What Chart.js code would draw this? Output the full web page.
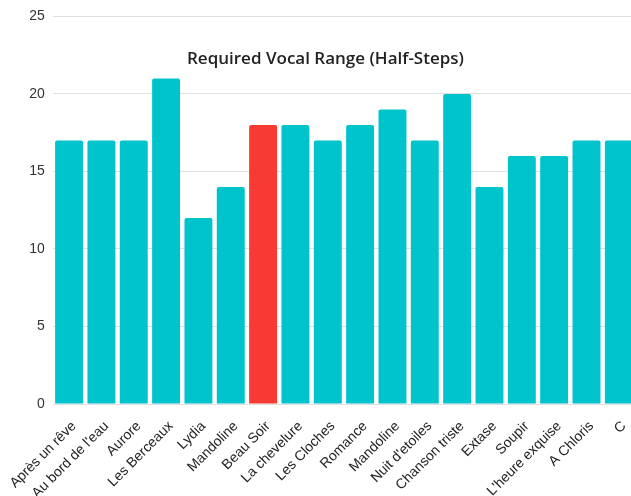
<!DOCTYPE html>
<html>
<head>
<meta charset="utf-8">
<script src="https://cdn.jsdelivr.net/npm/chart.js@4/dist/chart.umd.min.js"></script>
<style>
    html, body { margin: 0; padding: 0; background: #fff; }
    #wrap { position: relative; width: 631px; height: 496px; overflow: hidden; }
    #chartBox { position: absolute; left: 0; top: 0; width: 660px; height: 496px; }
    #title {
        position: absolute; left: 0; width: 651px; top: 46px; text-align: center;
        font-family: "Open Sans", sans-serif; font-weight: 600; font-size: 17px; color: #222;
    }
</style>
</head>
<body>
<div id="wrap">
    <div id="chartBox"><canvas id="rangeChart"></canvas></div>
    <div id="title">Required Vocal Range (Half-Steps)</div>
</div>
<script>
const songs = ["Après un rêve", "Au bord de l'eau", "Aurore", "Les Berceaux", "Lydia", "Mandoline",
    "Beau Soir", "La chevelure", "Les Cloches", "Romance", "Mandoline", "Nuit d'etoiles",
    "Chanson triste", "Extase", "Soupir", "L'heure exquise", "A Chloris", "C"];
const halfSteps = [17, 17, 17, 21, 12, 14, 18, 18, 17, 18, 19, 17, 20, 14, 16, 16, 17, 17];
const highlighted = "Beau Soir";

const teal = '#00C4CC';
const red = '#F73A33';

const ctx = document.getElementById('rangeChart').getContext('2d');

new Chart(ctx, {
    type: 'bar',
    data: {
        labels: songs,
        datasets: [{
            label: 'Required Vocal Range (Half-Steps)',
            data: halfSteps,
            backgroundColor: songs.map(s => s === highlighted ? red : teal),
            borderRadius: 2,
            borderSkipped: 'bottom',
            categoryPercentage: 0.96,
            barPercentage: 0.9
        }]
    },
    options: {
        responsive: true,
        maintainAspectRatio: false,
        animation: false,
        layout: { padding: { top: 4, left: 0, right: 25, bottom: 0 } },
        plugins: {
            legend: { display: false },
            title: { display: false },
            tooltip: { enabled: false }
        },
        scales: {
            x: {
                afterFit: scale => { scale.height = 92; },
                grid: { display: false },
                border: { display: false },
                ticks: {
                    autoSkip: false,
                    minRotation: 45,
                    maxRotation: 45,
                    padding: 6,
                    labelOffset: 5,
                    color: '#222',
                    font: { family: 'Liberation Sans, Arial, sans-serif', size: 14 }
                }
            },
            y: {
                min: 0,
                max: 25,
                afterFit: scale => { scale.width = 52; },
                grid: { color: '#e0e0e0', drawTicks: false },
                border: { display: false },
                ticks: {
                    stepSize: 5,
                    padding: 8,
                    color: '#333',
                    font: { family: 'Liberation Sans, Arial, sans-serif', size: 14 }
                }
            }
        }
    }
});
</script>
</body>
</html>
